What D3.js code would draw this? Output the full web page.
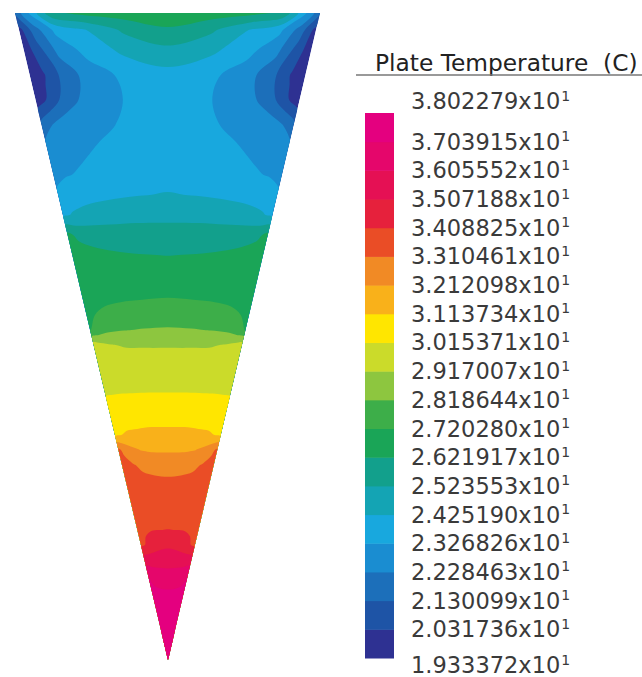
<!DOCTYPE html>
<html>
<head>
<meta charset="utf-8">
<script src="https://cdn.jsdelivr.net/npm/d3@7"></script>
<style>
  body { margin: 0; background: #fff; }
  text { font-family: "DejaVu Sans", Verdana, sans-serif; }
</style>
</head>
<body>
<div class="plate-chart"></div>
<script>
// legend levels, plate temperature (C)
const levels = [19.33372, 20.31736, 21.30099, 22.28463, 23.26826, 24.25190, 25.23553,
  26.21917, 27.20280, 28.18644, 29.17007, 30.15371, 31.13734, 32.12098, 33.10461,
  34.08825, 35.07188, 36.05552, 37.03915, 38.02279];
// one colour per band, lowest band first
const bandColors = ['#2e3192', '#1e54a6', '#1c6fba', '#1a8dd1', '#18a8de', '#14a4b4',
  '#12a08c', '#1aa557', '#3dae49', '#8dc63f', '#cbdb2a', '#ffe600', '#f9b11a',
  '#f18a25', '#ea4d26', '#e6213c', '#e51054', '#e5066b', '#e4007f'];
// sample rows: depth along the plate in % (top edge 0, tip 100)
const rowDepth = [0, 2.6, 5.7, 9.6, 13.4, 17.3, 21.2, 25.0, 28.1, 31.2, 34.3, 37.4, 40.5,
  44.0, 46.7, 49.0, 51.3, 55.2, 59.0, 62.1, 65.2, 67.5, 69.9, 73.0, 76.8, 79.9, 82.2,
  84.5, 86.9, 90.0, 94.6, 100];
// sample columns: % across the plate width at that depth
const colPos = [0, 5, 12, 22, 35, 50, 65, 78, 88, 95, 100];
// temperatures, one row per depth
const plateTemp = [
  [21.5, 23.5, 26.0, 26.5, 26.7, 26.8, 26.7, 26.5, 26.0, 23.5, 21.5],
  [19.9, 21.8, 23.5, 24.2, 25.4, 26.1, 25.4, 24.2, 23.5, 21.8, 19.9],
  [19.6, 20.9, 22.6, 23.6, 24.5, 25.0, 24.5, 23.6, 22.6, 20.9, 19.6],
  [19.5, 20.2, 21.6, 22.8, 23.5, 23.9, 23.5, 22.8, 21.6, 20.2, 19.5],
  [19.6, 20.5, 21.9, 22.8, 23.35, 23.8, 23.35, 22.8, 21.9, 20.5, 19.6],
  [21.6, 22.4, 22.8, 23.1, 23.4, 23.7, 23.4, 23.1, 22.8, 22.4, 21.6],
  [22.7, 22.8, 23.1, 23.35, 23.55, 23.75, 23.55, 23.35, 23.1, 22.8, 22.7],
  [23.0, 23.2, 23.35, 23.5, 23.7, 23.95, 23.7, 23.5, 23.35, 23.2, 23.0],
  [23.4, 23.7, 23.9, 24.05, 24.2, 24.3, 24.2, 24.05, 23.9, 23.7, 23.4],
  [24.0, 24.35, 24.6, 24.8, 24.95, 25.0, 24.95, 24.8, 24.6, 24.35, 24.0],
  [26.5, 26.0, 25.8, 25.7, 25.65, 25.6, 25.65, 25.7, 25.8, 26.0, 26.5],
  [26.9, 26.7, 26.5, 26.35, 26.25, 26.2, 26.25, 26.35, 26.5, 26.7, 26.9],
  [27.0, 26.95, 26.85, 26.75, 26.7, 26.7, 26.7, 26.75, 26.85, 26.95, 27.0],
  [27.1, 27.05, 27.05, 27.1, 27.15, 27.2, 27.15, 27.1, 27.05, 27.05, 27.1],
  [27.1, 27.2, 27.35, 27.5, 27.6, 27.7, 27.6, 27.5, 27.35, 27.2, 27.1],
  [27.15, 27.6, 28.0, 28.15, 28.25, 28.3, 28.25, 28.15, 28.0, 27.6, 27.15],
  [29.6, 29.4, 29.2, 29.1, 29.1, 29.1, 29.1, 29.1, 29.2, 29.4, 29.6],
  [29.9, 29.85, 29.8, 29.75, 29.7, 29.7, 29.7, 29.75, 29.8, 29.85, 29.9],
  [30.12, 30.15, 30.17, 30.18, 30.2, 30.2, 30.2, 30.18, 30.17, 30.15, 30.12],
  [30.6, 30.65, 30.7, 30.75, 30.8, 30.8, 30.8, 30.75, 30.7, 30.65, 30.6],
  [30.95, 31.1, 31.25, 31.3, 31.35, 31.35, 31.35, 31.3, 31.25, 31.1, 30.95],
  [33.3, 32.9, 32.4, 32.1, 32.0, 32.0, 32.0, 32.1, 32.4, 32.9, 33.3],
  [33.5, 33.4, 33.2, 32.9, 32.75, 32.7, 32.75, 32.9, 33.2, 33.4, 33.5],
  [33.7, 33.65, 33.6, 33.5, 33.45, 33.4, 33.45, 33.5, 33.6, 33.65, 33.7],
  [33.9, 33.85, 33.85, 33.8, 33.8, 33.8, 33.8, 33.8, 33.85, 33.85, 33.9],
  [34.0, 34.0, 34.0, 34.05, 34.08, 34.1, 34.08, 34.05, 34.0, 34.0, 34.0],
  [33.9, 34.0, 34.2, 34.5, 34.8, 34.9, 34.8, 34.5, 34.2, 34.0, 33.9],
  [35.5, 35.6, 35.6, 35.6, 35.6, 35.6, 35.6, 35.6, 35.6, 35.6, 35.5],
  [37.0, 36.8, 36.6, 36.5, 36.45, 36.4, 36.45, 36.5, 36.6, 36.8, 37.0],
  [37.5, 37.45, 37.4, 37.35, 37.3, 37.3, 37.3, 37.35, 37.4, 37.45, 37.5],
  [37.8, 37.8, 37.75, 37.75, 37.7, 37.7, 37.7, 37.75, 37.75, 37.8, 37.8],
  [38.0, 38.0, 38.0, 38.0, 38.0, 38.0, 38.0, 38.0, 38.0, 38.0, 38.0]
];

const width = 642, height = 677;

const svg = d3.select('.plate-chart')
  .append('svg')
  .attr('width', width)
  .attr('height', height);

// plate outline: top edge and tip
const yScale = d3.scaleLinear().domain([0, 100]).range([13, 660]);
const leftEdge = d3.scaleLinear().domain([0, 100]).range([15, 168]);
const rightEdge = d3.scaleLinear().domain([0, 100]).range([320, 168]);

// grid index -> % position
const nx = colPos.length, ny = rowDepth.length;
const colScale = d3.scaleLinear().domain(d3.range(nx)).range(colPos).clamp(true);
const rowScale = d3.scaleLinear().domain(d3.range(ny)).range(rowDepth).clamp(true);

function toScreen(p) {
  const u = colScale(p[0] - 0.5), d = rowScale(p[1] - 0.5);
  const xl = leftEdge(d), xr = rightEdge(d);
  return [xl + (xr - xl) * u / 100, yScale(d)];
}

const outline = [[leftEdge(0), yScale(0)], [rightEdge(0), yScale(0)], [leftEdge(100), yScale(100)]];

svg.append('clipPath').attr('id', 'plate-clip')
  .append('path')
  .attr('d', 'M' + outline.join('L') + 'Z');

const plate = svg.append('g').attr('clip-path', 'url(#plate-clip)');

// lowest band fills the whole plate
plate.append('path')
  .attr('d', 'M' + outline.join('L') + 'Z')
  .attr('fill', bandColors[0]);

const contours = d3.contours()
  .size([nx, ny])
  .thresholds(levels.slice(1, levels.length - 1))(plateTemp.flat());

const ringLine = d3.line().curve(d3.curveCatmullRomClosed.alpha(0.5));

function ringPath(ring) {
  const pts = [];
  ring.forEach(p => {
    const q = toScreen(p);
    const last = pts[pts.length - 1];
    if (!last || Math.hypot(q[0] - last[0], q[1] - last[1]) > 0.3) pts.push(q);
  });
  if (pts.length > 1 && Math.hypot(pts[0][0] - pts[pts.length - 1][0], pts[0][1] - pts[pts.length - 1][1]) < 0.3) pts.pop();
  return pts.length > 2 ? ringLine(pts) : '';
}

plate.selectAll('path.band')
  .data(contours)
  .enter()
  .append('path')
  .attr('class', 'band')
  .attr('fill-rule', 'evenodd')
  .attr('fill', (d, i) => bandColors[i + 1])
  .attr('d', d => d.coordinates.map(poly => poly.map(ringPath).join('')).join(''));

// colour bar
const barScale = d3.scaleLinear().domain([levels[0], levels[levels.length - 1]]).range([658, 113]);

svg.selectAll('rect.key')
  .data(bandColors)
  .enter()
  .append('rect')
  .attr('class', 'key')
  .attr('x', 365)
  .attr('width', 29)
  .attr('y', (c, i) => barScale(levels[i + 1]))
  .attr('height', (c, i) => barScale(levels[i]) - barScale(levels[i + 1]) + 0.5)
  .attr('fill', c => c);

// title and rule
svg.append('text')
  .text('Plate Temperature  (C)')
  .attr('x', 375)
  .attr('y', 71)
  .style('white-space', 'pre')
  .style('font-size', '23.3px')
  .attr('fill', '#222');

svg.append('line')
  .attr('x1', 356).attr('x2', 642)
  .attr('y1', 75).attr('y2', 75)
  .attr('stroke', '#777')
  .attr('stroke-width', 1.5);

// level labels
const labels = svg.selectAll('text.level')
  .data(levels)
  .enter()
  .append('text')
  .attr('class', 'level')
  .attr('x', 411)
  .attr('y', (v, i) => barScale(v) + 8 + (i === levels.length - 1 ? -12 : i === 0 ? 7 : 0))
  .style('font-size', '22.5px')
  .attr('fill', '#3a3a3a');

labels.append('tspan').text(v => (v / 10).toFixed(6) + 'x10');
labels.append('tspan').text('1').attr('dx', 1).attr('dy', -8.5).style('font-size', '14px');
</script>
</body>
</html>
